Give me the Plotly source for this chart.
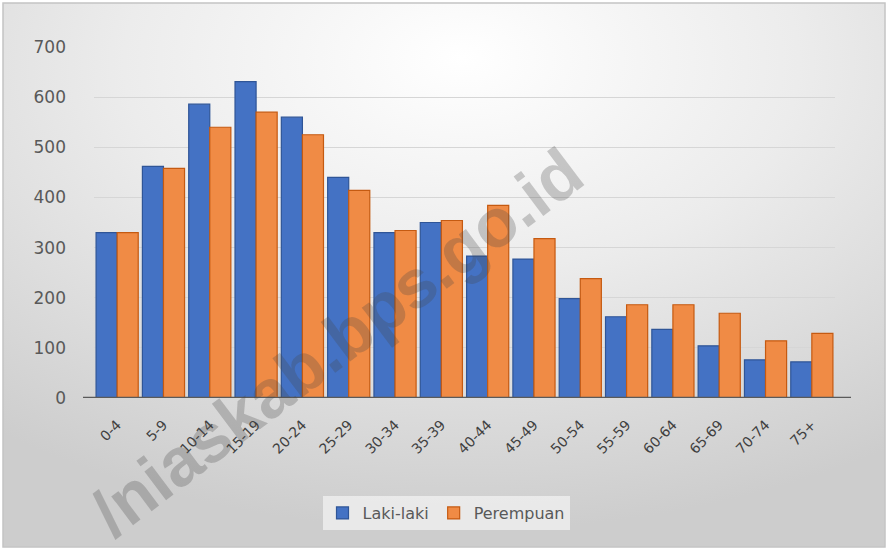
import base64
import plotly.graph_objects as go

categories = ["0-4", "5-9", "10-14", "15-19", "20-24", "25-29", "30-34", "35-39",
              "40-44", "45-49", "50-54", "55-59", "60-64", "65-69", "70-74", "75+"]
laki_laki = [330, 462, 586, 631, 560, 440, 330, 350, 283, 277, 198, 162, 137, 104, 76, 72]
perempuan = [330, 458, 540, 570, 525, 414, 334, 354, 384, 318, 238, 186, 186, 169, 114, 129]
y_ticks = [0, 100, 200, 300, 400, 500, 600, 700]

W, H = 888, 549
ML, MR, MT, MB = 94, 53, 47, 151
PW, PH = W - ML - MR, H - MT - MB

svg = f'''<svg xmlns="http://www.w3.org/2000/svg" width="{W}" height="{H}" viewBox="0 0 {W} {H}">
<defs><radialGradient id="g" cx="0.52" cy="0.12" r="0.85" fx="0.52" fy="0.1">
<stop offset="0" stop-color="#ffffff"/><stop offset="0.45" stop-color="#ececec"/>
<stop offset="1" stop-color="#cdcdcd"/></radialGradient></defs>
<rect x="0" y="0" width="{W}" height="{H}" fill="#ffffff"/>
<rect x="3" y="3" width="{W-6}" height="{H-5}" fill="url(#g)" stroke="#c4c4c4" stroke-width="1.5"/>
</svg>'''
src = "data:image/svg+xml;base64," + base64.b64encode(svg.encode()).decode()

fig = go.Figure()
fig.add_trace(go.Bar(
    x=categories, y=laki_laki, name="Laki-laki",
    marker=dict(color="#4472C4", line=dict(color="#2F5597", width=1.2)),
))
fig.add_trace(go.Bar(
    x=categories, y=perempuan, name="Perempuan",
    marker=dict(color="#F08B45", line=dict(color="#C55A11", width=1.2)),
))

fig.update_layout(
    width=W, height=H,
    margin=dict(l=ML, r=MR, t=MT, b=MB, pad=0),
    paper_bgcolor="#ffffff",
    plot_bgcolor="rgba(0,0,0,0)",
    barmode="group", bargap=0.09, bargroupgap=0.0,
    font=dict(family="DejaVu Sans, sans-serif", color="#595959", size=13),
    images=[dict(source=src, xref="paper", yref="paper",
                 x=-ML / PW, y=1 + MT / PH, sizex=W / PW, sizey=H / PH,
                 xanchor="left", yanchor="top", sizing="stretch", layer="below")],
    legend=dict(orientation="h", x=(446 - ML) / PW, y=-(513 - (MT + PH)) / PH,
                xanchor="center", yanchor="middle",
                bgcolor="rgba(242,242,242,0.75)", font=dict(size=16, color="#595959"),
                itemwidth=30, traceorder="normal"),
    showlegend=True,
    shapes=[dict(type="line", xref="paper", yref="y", x0=(83 - ML) / PW, x1=(851 - ML) / PW,
                 y0=0, y1=0, line=dict(color="#5a5a5a", width=2.5), layer="above")],
    annotations=[dict(text="<b>/niaskab.bps.go.id</b>", xref="paper", yref="paper",
                      x=(336 - ML) / PW, y=-(342 - (MT + PH)) / PH,
                      xanchor="center", yanchor="middle",
                      showarrow=False, textangle=-37,
                      font=dict(family="Liberation Sans, Arial, sans-serif", size=68,
                                color="rgba(70,70,70,0.27)"))],
)
fig.update_xaxes(
    tickangle=-45, showgrid=False, showline=False, ticks="",
    ticklabelstandoff=15, tickfont=dict(size=14, color="#404040"),
)
fig.update_yaxes(
    range=[0, 700], tickvals=y_ticks, showgrid=True, gridcolor="#d6d6d6", gridwidth=1,
    zeroline=False, showline=False, ticks="", ticklabelstandoff=27,
    tickfont=dict(size=17, color="#595959"),
)

fig.write_html("out.html", config={"displayModeBar": False},
               post_script="document.body.style.margin='0';document.body.style.padding='0';")
